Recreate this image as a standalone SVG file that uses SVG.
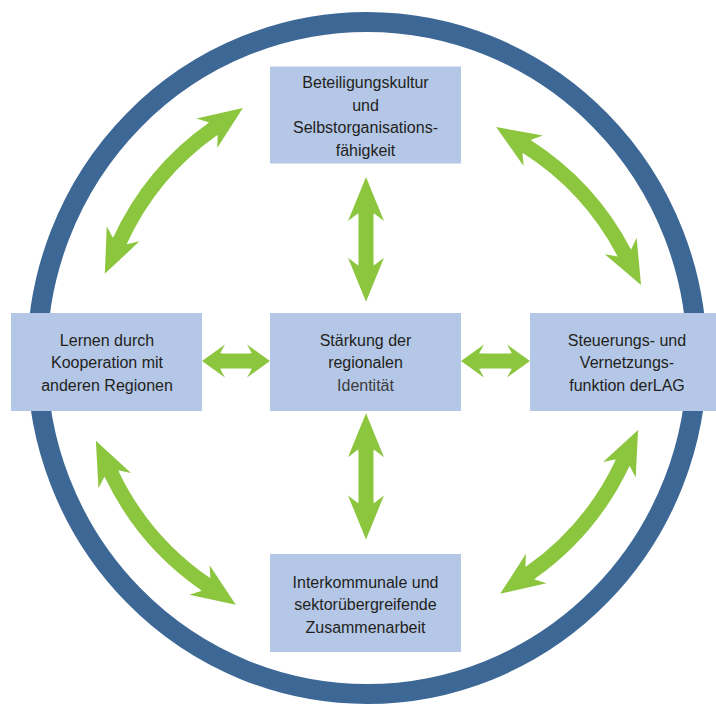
<svg xmlns="http://www.w3.org/2000/svg" width="716" height="706" viewBox="0 0 716 706">
  <style>
    .ring { fill: none; stroke: #3d6896; stroke-width: 20; }
    .box { fill: #b4c7e7; }
    .lbl { font-family: "Liberation Sans", Arial, sans-serif; font-size: 16px; fill: #231f20; text-anchor: middle; }
    .big { fill: none; stroke: #8cc63f; stroke-width: 15; marker-start: url(#headBig); marker-end: url(#headBig); }
    .small { fill: none; stroke: #8cc63f; stroke-width: 15; marker-start: url(#headSmall); marker-end: url(#headSmall); }
  </style>
  <defs>
    <marker id="headBig" markerUnits="userSpaceOnUse" viewBox="-10 -20 48 40" refX="0" refY="0" markerWidth="48" markerHeight="40" orient="auto-start-reverse" overflow="visible">
      <path d="M36,0 L-8,18 L0,7.5 L-2,7.5 L-2,-7.5 L0,-7.5 L-8,-18 Z" fill="#8cc63f"/>
    </marker>
    <marker id="headSmall" markerUnits="userSpaceOnUse" viewBox="-8 -18 28 36" refX="0" refY="0" markerWidth="28" markerHeight="36" orient="auto-start-reverse" overflow="visible">
      <path d="M18,0 L-5,16.5 L0,7.5 L-2,7.5 L-2,-7.5 L0,-7.5 L-5,-16.5 Z" fill="#8cc63f"/>
    </marker>
  </defs>

  <ellipse class="ring" cx="367" cy="358" rx="330" ry="336"/>

  <g id="connectors">
    <path class="big" d="M366,213 L366,265.7"/>
    <path class="big" d="M366,449.3 L366,503.4"/>
    <path class="small" d="M220,361 L252,361"/>
    <path class="small" d="M479,361 L512,361"/>
    <path class="big" d="M119.8,241.1 A280,280 0 0 1 213.4,128.6"/>
    <path class="big" d="M526.5,146.4 A280,280 0 0 1 624.4,253.1"/>
    <path class="big" d="M111.3,473.4 A280,280 0 0 0 206.1,584.5"/>
    <path class="big" d="M622.8,462.5 A280,280 0 0 1 529.7,573.2"/>
  </g>

  <g id="node-top">
    <rect class="box" x="270" y="66.5" width="191" height="97"/>
    <text class="lbl" x="365.5" y="88">Beteiligungskultur</text>
    <text class="lbl" x="365.5" y="110.5">und</text>
    <text class="lbl" x="365.5" y="133">Selbstorganisations-</text>
    <text class="lbl" x="365.5" y="155.5">fähigkeit</text>
  </g>

  <g id="node-center">
    <rect class="box" x="270" y="313" width="191" height="98"/>
    <text class="lbl" x="365.5" y="345.5">Stärkung der</text>
    <text class="lbl" x="365.5" y="368">regionalen</text>
    <text class="lbl" x="365.5" y="390.5" style="fill:#3c3c3c">Identität</text>
  </g>

  <g id="node-left">
    <rect class="box" x="11" y="313" width="191" height="98"/>
    <text class="lbl" x="107" y="345.5">Lernen durch</text>
    <text class="lbl" x="107" y="368">Kooperation mit</text>
    <text class="lbl" x="107" y="390.5">anderen Regionen</text>
  </g>

  <g id="node-right">
    <rect class="box" x="530" y="313" width="194" height="98"/>
    <text class="lbl" x="627" y="345.5">Steuerungs- und</text>
    <text class="lbl" x="627" y="368">Vernetzungs-</text>
    <text class="lbl" x="627" y="390.5">funktion derLAG</text>
  </g>

  <g id="node-bottom">
    <rect class="box" x="270" y="554" width="191" height="98"/>
    <text class="lbl" x="365.5" y="587.5">Interkommunale und</text>
    <text class="lbl" x="365.5" y="610">sektorübergreifende</text>
    <text class="lbl" x="365.5" y="632.5">Zusammenarbeit</text>
  </g>
</svg>
